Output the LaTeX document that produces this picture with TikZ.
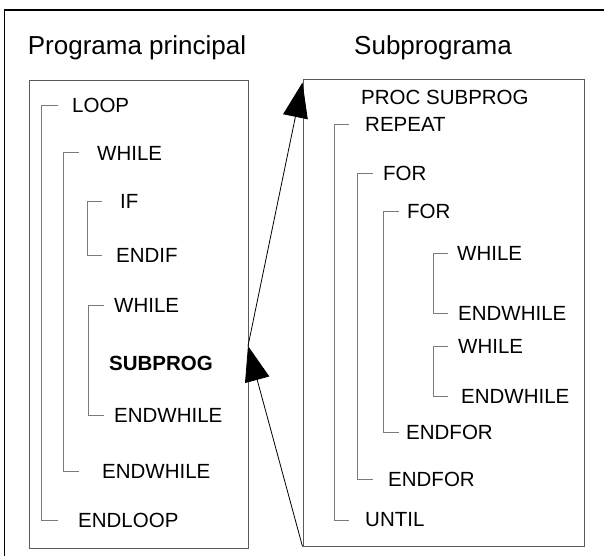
\documentclass[tikz,border=0pt]{standalone}
\usepackage{fontspec}
\setmainfont{Liberation Sans}
\usetikzlibrary{arrows.meta}
\definecolor{FrameGray}{HTML}{5A5A5A}
\definecolor{BracketGray}{HTML}{7A7A7A}

\begin{document}
\begin{tikzpicture}[x=1pt,y=-1pt,
  font=\fontsize{20.5}{24}\selectfont,
  stmt/.style={anchor=west,inner sep=0pt},
  title/.style={anchor=base,font=\fontsize{26}{30}\selectfont},
  codebox/.style={draw=FrameGray,line width=1pt,inner sep=0pt},
  bracket/.style={draw=BracketGray,line width=1pt},
  callarrow/.style={-{Triangle[length=35pt,width=25pt]},line width=0.8pt}]
  \useasboundingbox (0,0) rectangle (604,556);
  % outer frame (cut at the right and at the bottom)
  \draw[line width=1.2pt] (604,10) -- (4.5,10) -- (4.5,556);
  \node[title] (maintitle) at (137,55) {Programa principal};
  \node[title] (subtitle) at (433,55) {Subprograma};
  \node[codebox,minimum width=219pt,minimum height=467pt] (mainbox) at (138.5,314.5) {};
  \node[codebox,minimum width=281pt,minimum height=466pt] (subbox) at (443.5,313) {};
  % main program
  \node[stmt] (loop) at (72,105.5) {LOOP};
  \node[stmt] (whileA) at (97,153) {WHILE};
  \node[stmt] (ifA) at (120,201) {IF};
  \node[stmt] (endif) at (116,255) {ENDIF};
  \node[stmt] (whileB) at (114,305) {WHILE};
  \node[stmt,font=\fontsize{20.5}{24}\selectfont\bfseries] (subprog) at (109,363) {SUBPROG};
  \node[stmt] (endwhileB) at (114,415) {ENDWHILE};
  \node[stmt] (endwhileA) at (102,471.5) {ENDWHILE};
  \node[stmt] (endloop) at (78,520.5) {ENDLOOP};
  \draw[bracket] ([xshift=-14pt]loop.west) -- ++(-17,0) |- ([xshift=-20pt]endloop.west);
  \draw[bracket] ([xshift=-18pt]whileA.west) -- ++(-16,0) |- ([xshift=-23pt]endwhileA.west);
  \draw[bracket] ([xshift=-18pt]ifA.west) -- ++(-15,0) |- ([xshift=-14pt]endif.west);
  \draw[bracket] ([xshift=-10pt]whileB.west) -- ++(-16,0) |- ([xshift=-10pt]endwhileB.west);
  % subprogram
  \node[stmt] (proc) at (361,97) {PROC SUBPROG};
  \node[stmt] (repeat) at (365,124.5) {REPEAT};
  \node[stmt] (forA) at (383,173) {FOR};
  \node[stmt] (forB) at (407,211) {FOR};
  \node[stmt] (whileC) at (457,253) {WHILE};
  \node[stmt] (endwhileC) at (458,313) {ENDWHILE};
  \node[stmt] (whileD) at (458,346.5) {WHILE};
  \node[stmt] (endwhileD) at (461,396) {ENDWHILE};
  \node[stmt] (endforB) at (406,432) {ENDFOR};
  \node[stmt] (endforA) at (388,479) {ENDFOR};
  \node[stmt] (until) at (365,520) {UNTIL};
  \draw[bracket] ([xshift=-16pt]repeat.west) -- ++(-15,0) |- ([xshift=-16pt]until.west);
  \draw[bracket] ([xshift=-10pt]forA.west) -- ++(-16,0) |- ([xshift=-15pt]endforA.west);
  \draw[bracket] ([xshift=-8pt]forB.west) -- ++(-16,0) |- ([xshift=-7pt]endforB.west);
  \draw[bracket] ([xshift=-9pt]whileC.west) -- ++(-15,0) |- ([xshift=-10pt]endwhileC.west);
  \draw[bracket] ([xshift=-10pt]whileD.west) -- ++(-15,0) |- ([xshift=-13pt]endwhileD.west);
  % call and return
  \coordinate (call) at (248,346);
  \draw[callarrow] (call) -- ([yshift=-3pt]subbox.north west);
  \draw[callarrow] (subbox.south west) -- (call);
\end{tikzpicture}
\end{document}
